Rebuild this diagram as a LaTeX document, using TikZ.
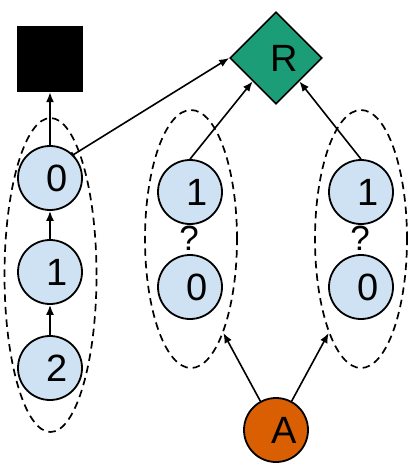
\documentclass[tikz,border=0pt]{standalone}
\usepackage{fontspec}
\setmainfont{Liberation Sans}
\usetikzlibrary{shapes.geometric,arrows.meta}
\definecolor{nodeblue}{HTML}{CFE2F3}
\definecolor{rgreen}{HTML}{1B9E77}
\definecolor{aorange}{HTML}{D95F02}
\begin{document}
\begin{tikzpicture}[x=1pt,y=-1pt,
  bigfont/.style={font=\fontsize{38}{40}\selectfont},
  state/.style={circle, draw, line width=1.8pt, fill=nodeblue, minimum size=64pt, inner sep=0pt, bigfont, execute at begin node=\hspace*{14pt}},
  rootnode/.style={diamond, draw, line width=1.6pt, fill=rgreen, minimum width=92pt, minimum height=92pt, inner sep=0pt, bigfont, execute at begin node=\hspace*{16pt}},
  anode/.style={circle, draw, line width=1.8pt, fill=aorange, minimum size=64pt, inner sep=0pt, bigfont, execute at begin node=\hspace*{16pt}},
  sinkbox/.style={rectangle, fill=black, minimum size=66pt, inner sep=0pt},
  group/.style={ellipse, draw, dash pattern=on 7.5pt off 5pt, line width=1.7pt, inner sep=0pt},
  qmark/.style={font=\fontsize{35}{37}\selectfont, inner sep=0pt},
  arr/.style={-{Latex[length=10pt,width=8pt]}, line width=1.6pt}
]
\useasboundingbox (0,0) rectangle (415,469);
% dashed groups
\node[group, minimum width=92pt, minimum height=314pt] (gl) at (50.5,275) {};
\node[group, minimum width=92pt, minimum height=258pt] (gm) at (191,239) {};
\node[group, minimum width=92pt, minimum height=258pt] (gr) at (361,239) {};
% nodes
\node[sinkbox] (sink) at (50,59) {};
\node[rootnode] (R) at (276,58) {R};
\node[qmark] (qm) at (189,238) {?};
\node[qmark] (qr) at (360,238) {?};
\node[state] (l0) at (50,178) {0};
\node[state] (l1) at (50,272) {1};
\node[state] (l2) at (50,368) {2};
\node[state] (m1) at (190,192) {1};
\node[state] (m0) at (190,287) {0};
\node[state] (r1) at (361,192) {1};
\node[state] (r0) at (361,287) {0};
\node[anode] (A) at (276,430) {A};
% connectors
\draw[arr] (l0) -- (sink);
\draw[arr] (l1) -- (l0);
\draw[arr] (l2) -- (l1);
\draw[{Bar[width=6pt,line width=1.6pt]}-{Latex[length=10pt,width=8pt]}, line width=1.6pt, shorten <=-1pt] (l0.45) -- (R.west);
\draw[arr] (m1.north) -- (R.south west);
\draw[arr] (r1.north) -- (R.south east);
\draw[arr] (A) -- (gm.-71.6);
\draw[arr] (A) -- (gr.-109.5);
\end{tikzpicture}
\end{document}
